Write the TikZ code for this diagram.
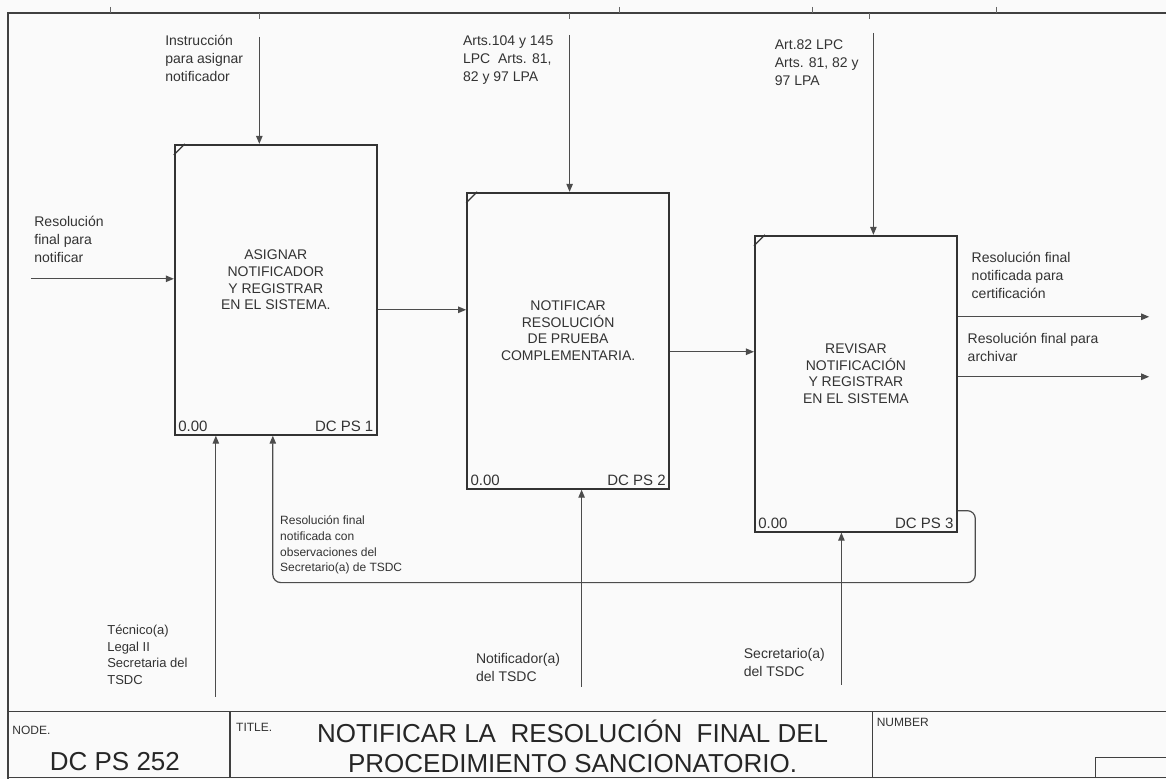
\documentclass[tikz,border=0pt]{standalone}
\usepackage{fontspec}
\setmainfont{Liberation Sans}
\usetikzlibrary{arrows.meta}

\begin{document}
\begin{tikzpicture}[x=0.5pt,y=-0.5pt,
    proc/.style={draw=black!80,line width=1pt,minimum width=101pt,inner sep=0pt},
    flow/.style={draw=black!70,line width=0.6pt,-{Triangle[length=4pt,width=3.2pt]}},
    lbl/.style={anchor=north west,inner sep=0pt,align=left,text=black!80,font=\fontsize{7}{9}\selectfont},
    boxtxt/.style={align=center,text=black!80,font=\fontsize{7}{8.4}\selectfont},
    tag/.style={inner sep=2pt,text=black!80,font=\fontsize{7.5}{9}\selectfont},
    head/.style={anchor=west,inner sep=0pt,text=black!80,font=\fontsize{6}{7}\selectfont}]
  \fill[black!2] (0,0) rectangle (1167,780);
  % frame and title block
  \draw[black!75,line width=0.8pt] (1167,13) -- (8,13) -- (8,780);
  \foreach \x in {260,570,870} \draw[black!60] (\x,13) -- (\x,19);
  \foreach \x in {110,620,813,997} \draw[black!60] (\x,7) -- (\x,13);
  \draw[black!75,line width=0.8pt] (8,712) -- (1167,712) (8,778) -- (1167,778)
    (230,712) -- (230,778) (873,712) -- (873,778);
  \draw[black!75,line width=0.6pt] (1096,778) |- (1167,758);
  \node[head] (nodehd) at (12,731) {NODE.};
  \node[head] (titlehd) at (236,728) {TITLE.};
  \node[head] (numhd) at (877,723) {NUMBER};
  \node[text=black!85,font=\fontsize{13}{15}\selectfont] (nodeid) at (115,762) {DC PS 252};
  \node[align=center,text=black!85,font=\fontsize{13}{15}\selectfont] (title) at (573,747)
    {NOTIFICAR LA~~RESOLUCIÓN~~FINAL DEL\\PROCEDIMIENTO SANCIONATORIO.};

  % activity boxes
  \node[proc,minimum height=145pt] (b1) at (276,290) {};
  \node[proc,minimum height=148pt] (b2) at (568.5,341) {};
  \node[proc,minimum height=148pt] (b3) at (856.5,384) {};
  \foreach \b in {b1,b2,b3}
    \draw[black!80,line width=0.6pt] ([yshift=-5.5pt]\b.north west) -- ([xshift=5.5pt]\b.north west);
  \node[boxtxt] (b1t) at ([yshift=5pt]b1.center) {ASIGNAR\\NOTIFICADOR\\Y REGISTRAR\\EN EL SISTEMA.};
  \node[boxtxt] (b2t) at ([yshift=5pt]b2.center) {NOTIFICAR\\RESOLUCIÓN\\DE PRUEBA\\COMPLEMENTARIA.};
  \node[boxtxt] (b3t) at ([yshift=5pt]b3.center) {REVISAR\\NOTIFICACIÓN\\Y REGISTRAR\\EN EL SISTEMA};
  \node[tag,anchor=south west] (b1n) at (b1.south west) {0.00};
  \node[tag,anchor=south east] (b1c) at (b1.south east) {DC PS 1};
  \node[tag,anchor=south west] (b2n) at (b2.south west) {0.00};
  \node[tag,anchor=south east] (b2c) at (b2.south east) {DC PS 2};
  \node[tag,anchor=south west] (b3n) at (b3.south west) {0.00};
  \node[tag,anchor=south east] (b3c) at (b3.south east) {DC PS 3};

  % controls
  \coordinate (c1) at (259.5,37);
  \coordinate (c2) at (570,35);
  \coordinate (c3) at (874,33);
  \draw[flow] (c1) -- (b1.north -| c1);
  \draw[flow] (c2) -- (b2.north -| c2);
  \draw[flow] (c3) -- (b3.north -| c3);
  \node[lbl] (c1l) at (165,35) {Instrucción\\para asignar\\notificador};
  \node[lbl] (c2l) at (463,35) {Arts.104 y 145\\LPC~ Arts. 81,\\82 y 97 LPA};
  \node[lbl] (c3l) at (775,39) {Art.82 LPC\\Arts. 81, 82 y\\97 LPA};

  % inputs and outputs
  \coordinate (in1) at (31,279);
  \coordinate (a12) at (420,310);
  \coordinate (a23) at (710,352);
  \coordinate (out1) at (1150,317);
  \coordinate (out2) at (1150,377);
  \draw[flow] (in1) -- (b1.west |- in1);
  \draw[flow] (b1.east |- a12) -- (b2.west |- a12);
  \draw[flow] (b2.east |- a23) -- (b3.west |- a23);
  \draw[flow] (b3.east |- out1) -- (out1);
  \draw[flow] (b3.east |- out2) -- (out2);
  \node[lbl] (in1l) at (34,216) {Resolución\\final para\\notificar};
  \node[lbl] (out1l) at (972,252) {Resolución final\\notificada para\\certificación};
  \node[lbl] (out2l) at (968,333) {Resolución final para\\archivar};

  % feedback
  \coordinate (fbR) at (976,583);
  \coordinate (fbL) at (273,583);
  \draw[flow,rounded corners=4pt] ([yshift=11pt]b3.south east) -| (fbR) -- (fbL) -- (b1.south -| fbL);
  \node[lbl,font=\fontsize{6}{7.8}\selectfont] (fbtxt) at (280,516)
    {Resolución final\\notificada con\\observaciones del\\Secretario(a) de TSDC};

  % mechanisms
  \coordinate (m1) at (216,697);
  \coordinate (m2) at (582,687);
  \coordinate (m3) at (842,685);
  \draw[flow] (m1) -- (b1.south -| m1);
  \draw[flow] (m2) -- (b2.south -| m2);
  \draw[flow] (m3) -- (b3.south -| m3);
  \node[lbl,font=\fontsize{6.5}{8.3}\selectfont] (m1l) at (107,625) {Técnico(a)\\Legal II\\Secretaria del\\TSDC};
  \node[lbl] (m2l) at (476,653) {Notificador(a)\\del TSDC};
  \node[lbl] (m3l) at (744,648) {Secretario(a)\\del TSDC};
\end{tikzpicture}
\end{document}
